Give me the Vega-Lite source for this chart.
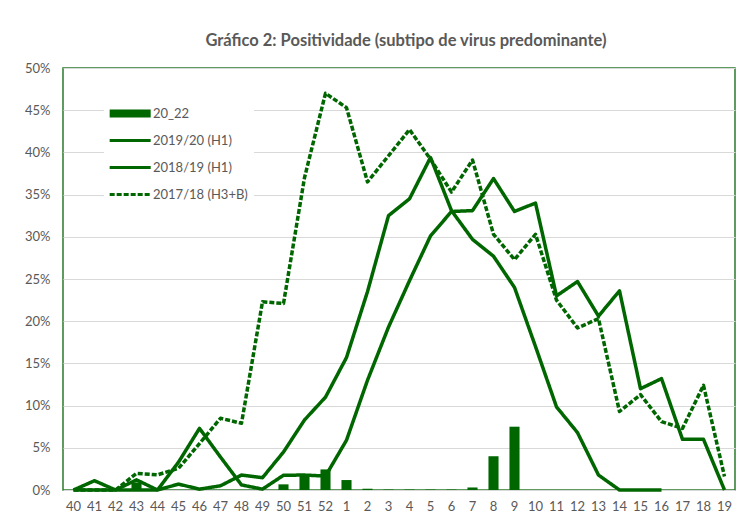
{
  "$schema": "https://vega.github.io/schema/vega-lite/v6.json",
  "width": 672,
  "height": 422,
  "autosize": {"type": "none"},
  "padding": {"left": 63, "top": 68, "right": 17, "bottom": 41},
  "background": "white",
  "title": {
    "text": "Gráfico 2: Positividade (subtipo de virus predominante)",
    "font": "Lato", "fontSize": 16.5, "fontWeight": "bold", "color": "#595959",
    "anchor": "middle", "offset": 13, "dx": 7
  },
  "config": {
    "view": {"stroke": "#2b7a2b", "strokeWidth": 1.5},
    "axis": {"labelFont": "Lato", "labelFontSize": 13, "labelColor": "#595959"}
  },
  "data": {"values": [
    {"semana": "43", "serie": "20_22", "valor": 0.9},
    {"semana": "50", "serie": "20_22", "valor": 0.67},
    {"semana": "51", "serie": "20_22", "valor": 1.8},
    {"semana": "52", "serie": "20_22", "valor": 2.44},
    {"semana": "1", "serie": "20_22", "valor": 1.18},
    {"semana": "2", "serie": "20_22", "valor": 0.15},
    {"semana": "3", "serie": "20_22", "valor": 0.05},
    {"semana": "4", "serie": "20_22", "valor": 0.05},
    {"semana": "5", "serie": "20_22", "valor": 0.05},
    {"semana": "6", "serie": "20_22", "valor": 0.05},
    {"semana": "7", "serie": "20_22", "valor": 0.3},
    {"semana": "8", "serie": "20_22", "valor": 4.0},
    {"semana": "9", "serie": "20_22", "valor": 7.5},

    {"semana": "40", "serie": "2019/20 (H1)", "valor": 0},
    {"semana": "41", "serie": "2019/20 (H1)", "valor": 1.1},
    {"semana": "42", "serie": "2019/20 (H1)", "valor": 0},
    {"semana": "43", "serie": "2019/20 (H1)", "valor": 1.2},
    {"semana": "44", "serie": "2019/20 (H1)", "valor": 0},
    {"semana": "45", "serie": "2019/20 (H1)", "valor": 0.7},
    {"semana": "46", "serie": "2019/20 (H1)", "valor": 0.1},
    {"semana": "47", "serie": "2019/20 (H1)", "valor": 0.5},
    {"semana": "48", "serie": "2019/20 (H1)", "valor": 1.77},
    {"semana": "49", "serie": "2019/20 (H1)", "valor": 1.46},
    {"semana": "50", "serie": "2019/20 (H1)", "valor": 4.5},
    {"semana": "51", "serie": "2019/20 (H1)", "valor": 8.3},
    {"semana": "52", "serie": "2019/20 (H1)", "valor": 11.0},
    {"semana": "1", "serie": "2019/20 (H1)", "valor": 15.7},
    {"semana": "2", "serie": "2019/20 (H1)", "valor": 23.5},
    {"semana": "3", "serie": "2019/20 (H1)", "valor": 32.5},
    {"semana": "4", "serie": "2019/20 (H1)", "valor": 34.5},
    {"semana": "5", "serie": "2019/20 (H1)", "valor": 39.4},
    {"semana": "6", "serie": "2019/20 (H1)", "valor": 33.1},
    {"semana": "7", "serie": "2019/20 (H1)", "valor": 29.7},
    {"semana": "8", "serie": "2019/20 (H1)", "valor": 27.7},
    {"semana": "9", "serie": "2019/20 (H1)", "valor": 24.0},
    {"semana": "10", "serie": "2019/20 (H1)", "valor": 17.0},
    {"semana": "11", "serie": "2019/20 (H1)", "valor": 9.85},
    {"semana": "12", "serie": "2019/20 (H1)", "valor": 6.8},
    {"semana": "13", "serie": "2019/20 (H1)", "valor": 1.77},
    {"semana": "14", "serie": "2019/20 (H1)", "valor": 0},
    {"semana": "15", "serie": "2019/20 (H1)", "valor": 0},
    {"semana": "16", "serie": "2019/20 (H1)", "valor": 0},

    {"semana": "40", "serie": "2018/19 (H1)", "valor": 0},
    {"semana": "41", "serie": "2018/19 (H1)", "valor": 0},
    {"semana": "42", "serie": "2018/19 (H1)", "valor": 0},
    {"semana": "43", "serie": "2018/19 (H1)", "valor": 0},
    {"semana": "44", "serie": "2018/19 (H1)", "valor": 0},
    {"semana": "45", "serie": "2018/19 (H1)", "valor": 3.3},
    {"semana": "46", "serie": "2018/19 (H1)", "valor": 7.3},
    {"semana": "47", "serie": "2018/19 (H1)", "valor": 3.9},
    {"semana": "48", "serie": "2018/19 (H1)", "valor": 0.6},
    {"semana": "49", "serie": "2018/19 (H1)", "valor": 0.1},
    {"semana": "50", "serie": "2018/19 (H1)", "valor": 1.75},
    {"semana": "51", "serie": "2018/19 (H1)", "valor": 1.77},
    {"semana": "52", "serie": "2018/19 (H1)", "valor": 1.65},
    {"semana": "1", "serie": "2018/19 (H1)", "valor": 5.9},
    {"semana": "2", "serie": "2018/19 (H1)", "valor": 13.0},
    {"semana": "3", "serie": "2018/19 (H1)", "valor": 19.3},
    {"semana": "4", "serie": "2018/19 (H1)", "valor": 24.8},
    {"semana": "5", "serie": "2018/19 (H1)", "valor": 30.1},
    {"semana": "6", "serie": "2018/19 (H1)", "valor": 33.0},
    {"semana": "7", "serie": "2018/19 (H1)", "valor": 33.1},
    {"semana": "8", "serie": "2018/19 (H1)", "valor": 36.9},
    {"semana": "9", "serie": "2018/19 (H1)", "valor": 33.0},
    {"semana": "10", "serie": "2018/19 (H1)", "valor": 34.0},
    {"semana": "11", "serie": "2018/19 (H1)", "valor": 23.0},
    {"semana": "12", "serie": "2018/19 (H1)", "valor": 24.7},
    {"semana": "13", "serie": "2018/19 (H1)", "valor": 20.6},
    {"semana": "14", "serie": "2018/19 (H1)", "valor": 23.6},
    {"semana": "15", "serie": "2018/19 (H1)", "valor": 12.0},
    {"semana": "16", "serie": "2018/19 (H1)", "valor": 13.2},
    {"semana": "17", "serie": "2018/19 (H1)", "valor": 6.0},
    {"semana": "18", "serie": "2018/19 (H1)", "valor": 6.0},
    {"semana": "19", "serie": "2018/19 (H1)", "valor": 0},

    {"semana": "40", "serie": "2017/18 (H3+B)", "valor": 0},
    {"semana": "41", "serie": "2017/18 (H3+B)", "valor": 0},
    {"semana": "42", "serie": "2017/18 (H3+B)", "valor": 0},
    {"semana": "43", "serie": "2017/18 (H3+B)", "valor": 1.97},
    {"semana": "44", "serie": "2017/18 (H3+B)", "valor": 1.8},
    {"semana": "45", "serie": "2017/18 (H3+B)", "valor": 2.56},
    {"semana": "46", "serie": "2017/18 (H3+B)", "valor": 5.5},
    {"semana": "47", "serie": "2017/18 (H3+B)", "valor": 8.5},
    {"semana": "48", "serie": "2017/18 (H3+B)", "valor": 7.9},
    {"semana": "49", "serie": "2017/18 (H3+B)", "valor": 22.3},
    {"semana": "50", "serie": "2017/18 (H3+B)", "valor": 22.1},
    {"semana": "51", "serie": "2017/18 (H3+B)", "valor": 37.0},
    {"semana": "52", "serie": "2017/18 (H3+B)", "valor": 47.0},
    {"semana": "1", "serie": "2017/18 (H3+B)", "valor": 45.3},
    {"semana": "2", "serie": "2017/18 (H3+B)", "valor": 36.5},
    {"semana": "3", "serie": "2017/18 (H3+B)", "valor": 39.6},
    {"semana": "4", "serie": "2017/18 (H3+B)", "valor": 42.7},
    {"semana": "5", "serie": "2017/18 (H3+B)", "valor": 39.2},
    {"semana": "6", "serie": "2017/18 (H3+B)", "valor": 35.3},
    {"semana": "7", "serie": "2017/18 (H3+B)", "valor": 39.1},
    {"semana": "8", "serie": "2017/18 (H3+B)", "valor": 30.3},
    {"semana": "9", "serie": "2017/18 (H3+B)", "valor": 27.3},
    {"semana": "10", "serie": "2017/18 (H3+B)", "valor": 30.3},
    {"semana": "11", "serie": "2017/18 (H3+B)", "valor": 22.5},
    {"semana": "12", "serie": "2017/18 (H3+B)", "valor": 19.2},
    {"semana": "13", "serie": "2017/18 (H3+B)", "valor": 20.3},
    {"semana": "14", "serie": "2017/18 (H3+B)", "valor": 9.3},
    {"semana": "15", "serie": "2017/18 (H3+B)", "valor": 11.3},
    {"semana": "16", "serie": "2017/18 (H3+B)", "valor": 8.1},
    {"semana": "17", "serie": "2017/18 (H3+B)", "valor": 7.3},
    {"semana": "18", "serie": "2017/18 (H3+B)", "valor": 12.4},
    {"semana": "19", "serie": "2017/18 (H3+B)", "valor": 1.6}
  ]},
  "encoding": {
    "x": {
      "field": "semana", "type": "nominal",
      "scale": {
        "domain": ["40","41","42","43","44","45","46","47","48","49","50","51","52","1","2","3","4","5","6","7","8","9","10","11","12","13","14","15","16","17","18","19"],
        "paddingInner": 0.52, "paddingOuter": 0.26
      },
      "axis": {"title": null, "labelAngle": 0, "domain": false, "ticks": false, "grid": false, "labelPadding": 10}
    },
    "y": {
      "field": "valor", "type": "quantitative",
      "scale": {"domain": [0, 50], "nice": false, "zero": true},
      "axis": {
        "title": null, "values": [0,5,10,15,20,25,30,35,40,45,50],
        "labelExpr": "datum.value + '%'", "domain": false, "ticks": false,
        "labelPadding": 13, "gridColor": "#d9d9d9", "gridWidth": 1
      }
    },
    "color": {
      "field": "serie", "type": "nominal",
      "scale": {
        "domain": ["20_22", "2019/20 (H1)", "2018/19 (H1)", "2017/18 (H3+B)"],
        "range": ["#006600", "#006600", "#006600", "#006600"]
      },
      "legend": {
        "title": null, "orient": "none", "legendX": 41, "legendY": 33,
        "fillColor": "white", "padding": 6,
        "labelFont": "Lato", "labelFontSize": 13, "labelColor": "#595959",
        "labelOffset": 30, "rowPadding": 13, "symbolSize": 187,
        "encode": {
          "symbols": {
            "update": {
              "shape": {"signal": "datum.value === '20_22' ? 'M-1,-0.6H5V0.6H-1Z' : 'M-1,0H5'"},
              "fill": {"signal": "datum.value === '20_22' ? '#006600' : 'transparent'"},
              "stroke": {"value": "#006600"},
              "strokeWidth": {"signal": "datum.value === '20_22' ? 0 : 3"},
              "strokeDash": {"signal": "datum.value === '2017/18 (H3+B)' ? [5,2] : [1,0]"},
              "opacity": {"value": 1},
              "size": {"value": 187}
            }
          }
        }
      }
    }
  },
  "layer": [
    {
      "transform": [{"filter": "datum.serie === '20_22'"}],
      "mark": {"type": "bar", "opacity": 1}
    },
    {
      "transform": [{"filter": "datum.serie !== '20_22'"}],
      "mark": {"type": "line", "strokeWidth": 3.5, "strokeJoin": "round"},
      "encoding": {
        "strokeDash": {
          "field": "serie", "type": "nominal",
          "scale": {"domain": ["2019/20 (H1)", "2018/19 (H1)", "2017/18 (H3+B)"], "range": [[1,0],[1,0],[5,2]]},
          "legend": null
        }
      }
    }
  ]
}
